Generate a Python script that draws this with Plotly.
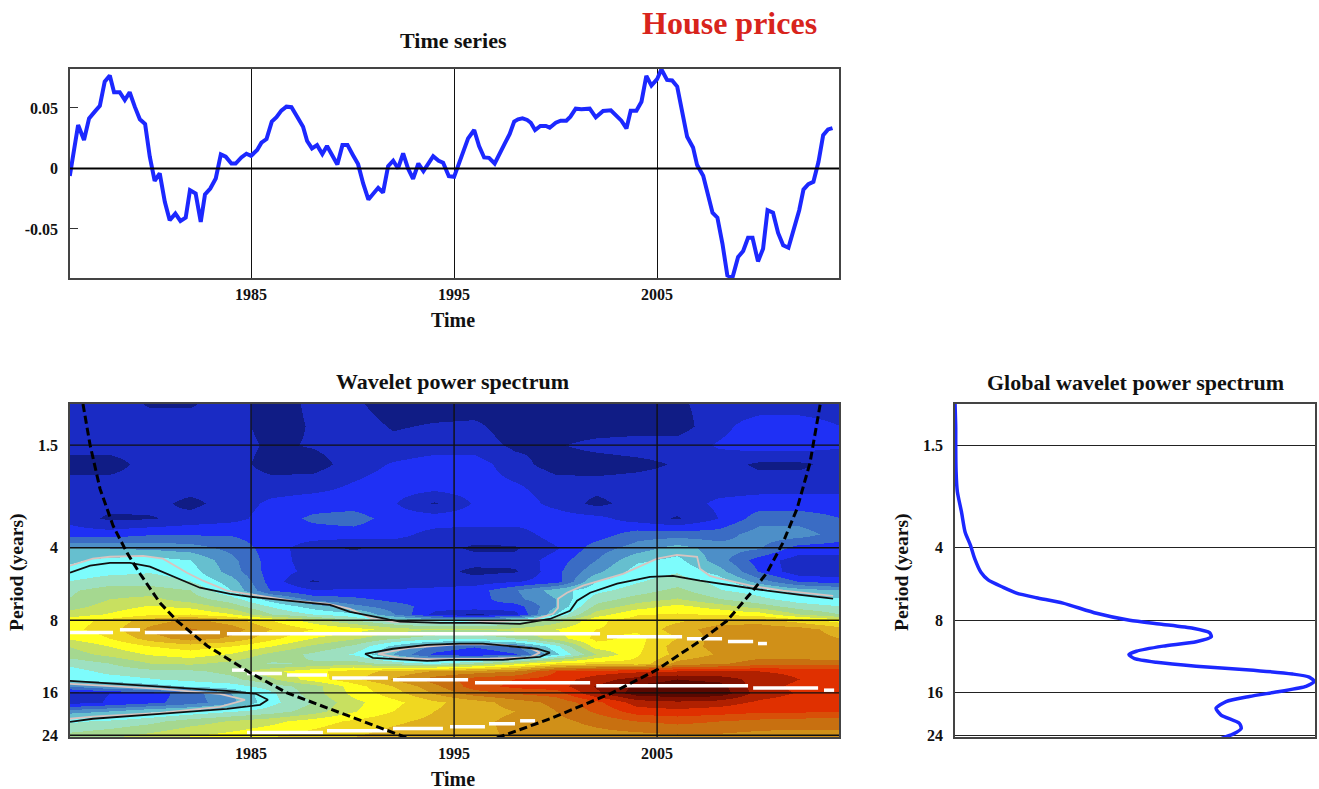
import math
import plotly.graph_objects as go

# ---- time series ----
ts_years = [1976.07,1976.48,1976.77,1977.02,1977.30,1977.55,1977.79,1978.04,1978.25,1978.53,1978.78,1979.02,1979.27,1979.52,1979.78,1980.01,1980.25,1980.50,1980.75,1980.99,1981.27,1981.52,1981.78,1981.99,1982.27,1982.52,1982.73,1982.99,1983.26,1983.51,1983.75,1984.03,1984.24,1984.52,1984.77,1985.00,1985.30,1985.51,1985.76,1986.02,1986.25,1986.49,1986.74,1986.99,1987.27,1987.56,1987.76,1988.00,1988.25,1988.51,1988.74,1989.01,1989.25,1989.50,1989.75,1990.02,1990.27,1990.52,1990.78,1991.26,1991.50,1991.75,1992.00,1992.24,1992.49,1992.73,1992.98,1993.24,1993.49,1993.97,1994.24,1994.46,1994.74,1995.00,
            1995.20,1995.44,1995.69,1995.99,1996.23,1996.48,1996.72,1997.00,1997.25,1997.50,1997.74,1997.96,1998.15,1998.37,1998.60,1998.78,1998.99,1999.25,1999.52,1999.71,2000.01,2000.25,2000.53,2000.73,2000.99,2001.27,2001.68,2001.98,2002.34,2002.72,2003.00,2003.24,2003.49,2003.70,2003.98,2004.23,2004.47,2004.72,2005.00,2005.21,2005.49,2005.74,2005.99,2006.20,2006.48,2006.77,2006.97,2007.27,2007.51,2007.73,2007.97,2008.22,2008.46,2008.71,2008.99,2009.24,2009.48,2009.70,2009.97,2010.22,2010.44,2010.71,2010.96,2011.21,2011.47,2011.75,2012.00,2012.21,2012.45,2012.70,2012.95,2013.18,2013.42,2013.64]
ts_values = [-.0061,.0359,.0235,.0414,.0470,.0517,.0718,.0768,.0630,.0630,.0566,.0630,.0511,.0406,.0367,.0097,-.0102,-.0041,-.0276,-.0428,-.0373,-.0434,-.0406,-.0180,-.0207,-.0442,-.0215,-.0166,-.0083,.0116,.0097,.0041,.0041,.0091,.0122,.0105,.0152,.0213,.0243,.0387,.0423,.0478,.0511,.0506,.0428,.0345,.0227,.0166,.0193,.0119,.0185,.0105,.0033,.0193,.0193,.0110,.0036,-.0124,-.0257,-.0160,-.0199,.0019,.0064,0,.0124,0,-.0086,.0041,-.0022,.0102,.0064,.0047,-.0064,-.0069,
             .0028,.0130,.0249,.0318,.0185,.0091,.0088,.0041,.0130,.0207,.0285,.0387,.0406,.0414,.0401,.0378,.0318,.0351,.0351,.0337,.0378,.0395,.0395,.0428,.0494,.0489,.0494,.0423,.0475,.0481,.0434,.0395,.0331,.0478,.0478,.0552,.0765,.0685,.0738,.0820,.0732,.0727,.0677,.0483,.0262,.0174,.0028,-.0061,-.0235,-.0365,-.0406,-.0622,-.0884,-.0903,-.0732,-.0682,-.0572,-.0572,-.0768,-.0663,-.0345,-.0365,-.0533,-.0635,-.0655,-.0497,-.0345,-.0174,-.0130,-.0110,.0055,.0276,.0323,.0334]

# ---- wavelet power ----
wp_years = [1976,1978,1980,1982,1984,1986,1988,1990,1992,1994,1996,1998,2000,2002,2004,2006,2008,2010,2012,2014]
wp_periods = [1.013,1.25,1.5,1.8,2.2,2.6,3.0,3.5,4,4.5,5,5.5,6,6.5,7,7.5,8,8.7,9.5,10.2,11,12,13,14,15,16,17.5,19,21,24.4]
wp_power = [
 [1,1,.4,.4,1,0,.7,.7,0,0,0,0,0,0,0,.3,1,1,1,1],
 [1,1,1,1,1,0,.6,1,.4,.6,.7,0,0,0,0,0,1.2,2,2,1.5],
 [1,1,1,1,1,.3,.6,1,.8,1,1,.3,.4,.8,1,1,1.6,2,2,1.6],
 [0,0,1,1,1,0,0,1,1.6,2,2,.9,0,0,.2,.6,1,.3,.3,.9],
 [1,1,1,1,1,1,1.1,1.6,2,2,2,1.6,1,.9,1,1,1,1,1,1],
 [1,.9,.9,.2,1,1.7,2,2,1.6,.4,1.6,2,1.2,.2,1,1,1.7,2,2,2],
 [1.2,.3,.4,.9,1.2,1.9,2.7,3,2,2,2,2,2,1.8,1,.4,1.5,3,3,2.5],
 [2,2,2.4,2.4,2.4,2,2,2,1.8,1.2,1,1,2,2,3,3,3,4,4,3],
 [4.5,4.5,4.3,4,3.2,2,.9,.4,.9,1,.3,.4,1.4,3,4,5,4,3.6,2,2],
 [5.3,5.8,6,5.5,3.8,2,1,1,1,1,1,.8,2,3.5,5.3,5.8,4,2,1,1],
 [5.8,6.2,6.4,6,4,2,1.2,1,1,1,.2,.4,2.2,4.2,6,6.4,5,2.4,.8,.8],
 [6.5,7,7,6.5,5,2,.4,1,1,1.1,1,1.4,2,5.5,6.4,7,6.2,4,2.4,2],
 [7.3,8,8,7.5,5.5,2.4,1.6,1.6,1.6,1.7,2,3.4,5,6.2,7,7.8,6.6,6,5,4.5],
 [7.5,8.5,8.8,8,7,5,3.2,2.8,2.2,2,2,3.2,4.5,7,8,8.6,7.6,6.8,6,5.7],
 [8,9,9.6,9.2,8,6.4,5,3.8,3,2,2.2,2,4.5,7.8,9,9.8,9,8,7,6.5],
 [9,9.6,10.3,10.5,9.6,7.5,6.5,5.8,3.6,1.2,.3,1.2,5.5,9,10.4,10.6,10.4,10,8.5,7.5],
 [10,10.8,12,12.8,12,10.5,9,7.5,6.3,5.5,5.5,6.5,8,10.3,11,11.3,12,12,11,10],
 [10.2,11,12.8,13.6,13,11.5,10.5,10,9,8.5,8.5,8.8,9.5,10.5,10.7,12,13,13.2,13,12],
 [9.6,10.5,12,13,12.3,10.8,9.5,8.7,7.6,7,6.8,7.5,9,10.8,10.2,11.5,13,13.2,13,12.5],
 [8.5,9.5,10.5,11,10.5,9.5,8.3,7.3,5.2,3.2,2.6,3.4,6.2,10,10.2,12,12.8,13,13,12.5],
 [8,8.8,9.6,10,9.4,8.2,7.3,6.4,4.5,2.3,1.7,2.4,5.3,8.5,10.4,11.8,12.6,13,13,12.5],
 [6.8,7.5,8.5,8.7,8.2,7.4,7.6,8,7,6.3,7.5,9,10.5,11,10.8,12.8,13.3,14,14,14],
 [6,6.8,7.2,7.3,7.8,9.2,10.2,11,11.8,12.6,13,13.5,15.5,16,16.3,16.5,16.5,16.5,16.3,16],
 [6,6,6.4,6.8,7.2,8.3,10,11.2,12.6,14,15,15.5,16,17,18,18.5,18.2,17,16.5,16],
 [3.5,4.5,5,5.6,6,7,8,10,11.5,13.2,15,15.8,16,17.6,18.7,19,19,16.8,16.3,16],
 [1,1.5,2,3,4.5,6.3,8,9.8,11,12.6,14,14.6,15,17.3,19,19.3,19.2,17,16.4,16],
 [1,1.6,2.2,3,4.2,6.2,7.5,9.2,10.2,11.3,12,13,13.8,15.2,17,17.3,17,16.3,16,16],
 [4,4.5,5.3,5.8,6.4,7,8,9.4,10.5,11.5,12,12.5,13.5,14.7,16,16.2,16,15.7,15.7,15.5],
 [6.3,6.7,7.2,8,8.6,9.2,10,10.7,11.3,11.8,12.2,12.8,13.2,13.8,14.5,14.8,14.5,14.2,14,14],
 [8,8.4,9,9.6,10,10.5,11,11.5,12,12,12.3,12.6,13,13,13,13.2,13.2,13,13,13],
]
wp_colors = ["#101c85","#1a2bc4","#1f30f5","#3a6cc4","#4d8fc8","#66bfcf","#7dfcfc","#9de0c0","#a5d890","#c8e060",
             "#ffff20","#f0d820","#dfb020","#d09018","#c87010","#d85008","#e03000","#b02000","#801000","#5a0800"]

# significance contours, cone of influence, ridges: (year, period)
sig_black_y = [1976.08,1977.07,1978.05,1979.04,1980.02,1980.76,1981.5,1982.48,1983.96,1984.98,1986.92,1988.89,1989.87,1991.35,1992.34,1994.31,1996.28,1998.25,1999.72,2000.71,2001.06,2001.7,2003.03,2004.65,2005.78,2007.11,2008.74,2010.41,2012.04,2013.67]
sig_black_p = [5.08,4.75,4.62,4.62,4.79,5.08,5.38,5.86,6.21,6.39,6.64,6.9,7.38,7.81,8.1,8.2,8.2,8.28,7.9,7.31,6.64,6.15,5.64,5.28,5.23,5.48,5.75,6.03,6.27,6.51]
sig_grey_y = [1976.08,1977.21,1978.05,1979.68,1980.66,1981.84,1982.63,1983.81,1984.8,1987.07,1988.74,1989.87,1990.86,1991.99,1995.29,1998.89,1999.87,2000.12,2000.12,2000.56,2001.35,2003.32,2004.01,2005.0,2005.98,2006.97,2007.11,2007.6,2007.95,2009.6,2011.2,2012.9,2013.67]
sig_grey_p = [4.75,4.44,4.36,4.32,4.44,5.08,5.48,6.03,6.21,6.64,6.83,7.17,7.81,8.12,8.2,7.97,7.52,7.1,6.51,6.15,5.75,5.13,4.84,4.44,4.28,4.36,4.89,5.23,5.33,5.75,6.03,6.21,6.33]
mid_black_y = [1990.61,1991.99,1993.67,1995.29,1996.42,1998.1,1999.08,1999.72,1999.23,1997.41,1994.8,1993.67,1991.99,1991.0,1990.61]
mid_black_p = [11.02,10.5,10.11,9.99,10.0,10.31,10.5,10.9,11.34,11.67,11.67,11.78,11.56,11.45,11.02]
mid_grey_y = [1991.25,1992.83,1995.29,1997.26,1998.74,1999.23,1998.74,1996.77,1993.81,1992.34,1991.25]
mid_grey_p = [11.02,10.4,10.05,10.1,10.45,10.9,11.4,11.55,11.6,11.45,11.02]
low_black_y = [1976.08,1983.8,1985.24,1985.83,1985.44,1983.81,1980.51,1977.21,1976.08]
low_black_p = [14.26,15.7,16.15,17.1,17.95,18.65,19.56,20.5,21.1]
low_grey_y = [1976.08,1980.51,1983.46,1984.7,1983.46,1980.51,1977.21,1976.08]
low_grey_p = [14.68,15.4,16.15,17.1,18.3,19.4,20.1,20.5]
coi_left_y = [1976.72,1977.07,1977.56,1978.2,1978.89,1979.53,1980.51,1981.35,1982.83,1984.95,1986.77,1989.53,1992.68]
coi_left_p = [1.013,1.5,2.28,3.24,4.2,5.13,6.77,8.04,10.2,13.2,16,19.56,24.6]
coi_right_y = [1997.11,1999.73,2002.68,2004.99,2007.26,2008.44,2009.72,2010.41,2011.2,2011.89,2012.53,2013.03]
coi_right_p = [24.6,20.5,16.15,12.84,9.55,8.04,6.03,5.08,3.81,2.76,1.78,1.02]
ridge_y = [1976.08,1978.2,None,1978.54,1979.53,None,1979.77,1983.47,None,1983.81,2002.19,None,2002.53,2006.23,None,2006.47,2008.2,None,2008.49,2009.73,None,2009.97,2010.41,None,
           1984.06,1984.7,None,1984.8,1986.52,None,1986.77,1988.74,None,1988.99,1991.74,None,1991.99,1995.69,None,1996.03,2001.7,None,2002.0,2009.48,None,2009.73,2012.93,None,2013.22,2013.72,None,
           1984.8,1988.54,None,1988.74,1991.7,None,1991.99,1994.45,None,1994.8,1996.52,None,1996.72,1998.0,None,1998.25,1998.99]
ridge_p = [8.99,8.99,None,8.76,8.76,None,8.99,8.99,None,9.1,9.1,None,9.37,9.37,None,9.55,9.55,None,9.8,9.8,None,9.99,9.99,None,
           12.88,12.88,None,13.3,13.3,None,13.5,13.5,None,13.9,13.9,None,14.13,14.13,None,14.54,14.54,None,14.96,14.96,None,15.26,15.26,None,15.6,15.6,None,
           23.4,23.4,None,23.0,23.0,None,22.5,22.5,None,22.1,22.1,None,21.5,21.5,None,20.9,20.9]

# ---- global spectrum ----
gw_power = [0,.002,.002,.003,.0065,.018,.028,.043,.055,.072,.092,.134,.171,.226,.30,.393,.485,.578,.661,.707,.712,.67,.578,.504,.483,.499,.559,.67,.809,.938,.984,.998,.975,.901,.818,.753,.725,.739,.79,.795,.772,.735]
gw_period = [1.0,1.27,1.5,1.93,2.34,2.84,3.44,3.91,4.45,5.06,5.44,5.84,6.17,6.45,6.79,7.48,8.0,8.32,8.64,9.0,9.36,9.82,10.24,10.75,11.1,11.54,11.95,12.41,12.82,13.37,13.76,14.35,15.05,15.8,16.57,17.39,18.55,19.78,21.42,22.5,23.75,24.9]

year_ticks = [1985, 1995, 2005]
period_ticks = [1.5, 4, 8, 16, 24]
value_ticks = [-0.05, 0, 0.05]
value_labels = ["-0.05", "0", "0.05"]
X_RANGE = [1976.08, 2013.96]
P_RANGE = [1.013, 24.4]

W, H = 1319, 789
FONT = "Liberation Serif"
BLUE = "#1c28ff"
INK = "#111111"
FRAME = "#444444"

def hd(a, b): return [a / W, b / W]
def vd(top, bottom): return [1 - bottom / H, 1 - top / H]
def bold(items): return [f"<b>{i}</b>" for i in items]

fig = go.Figure()

# time series
fig.add_trace(go.Scatter(x=ts_years, y=ts_values, mode="lines", line=dict(color=BLUE, width=4), xaxis="x", yaxis="y", showlegend=False))

# spectrum
n = len(wp_colors)
scale = []
for i, c in enumerate(wp_colors):
    scale += [[i / n, c], [(i + 1) / n, c]]
fig.add_trace(go.Heatmap(x=wp_years, y=wp_periods, z=wp_power, zmin=-.5, zmax=n - .5, colorscale=scale,
                         zsmooth="best", showscale=False, xaxis="x2", yaxis="y2"))

def line2(x, y, color, width, dash="solid"):
    fig.add_trace(go.Scatter(x=x, y=y, mode="lines", line=dict(color=color, width=width, dash=dash),
                             xaxis="x2", yaxis="y2", showlegend=False, connectgaps=False))

for a, b in [(sig_grey_y, sig_grey_p), (mid_grey_y, mid_grey_p), (low_grey_y, low_grey_p)]:
    line2(a, b, "#d8c4c0", 1.8)
for a, b in [(sig_black_y, sig_black_p), (mid_black_y, mid_black_p), (low_black_y, low_black_p)]:
    line2(a, b, "#101010", 1.8)
line2(ridge_y, ridge_p, "#ffffff", 3.5)
gx, gy = [], []
for t in year_ticks:
    gx += [t, t, None]; gy += [P_RANGE[0], P_RANGE[1], None]
for p in period_ticks:
    gx += [X_RANGE[0], X_RANGE[1], None]; gy += [p, p, None]
line2(gx, gy, "#111111", 1.4)
line2(coi_left_y, coi_left_p, "#000000", 3, "8px,4px")
line2(coi_right_y, coi_right_p, "#000000", 3, "8px,4px")

# global
fig.add_trace(go.Scatter(x=gw_power, y=gw_period, mode="lines", line=dict(color=BLUE, width=3.5, shape="spline", smoothing=.6),
                         xaxis="x3", yaxis="y3", showlegend=False))

tf = dict(family=FONT, size=16, color=INK)
common = dict(showline=True, linecolor=FRAME, linewidth=1.5, mirror=True, tickfont=tf, zeroline=False)
log_range = [math.log10(P_RANGE[1]), math.log10(P_RANGE[0])]

fig.update_layout(
    autosize=False, width=W, height=H, margin=dict(l=0, r=0, t=0, b=0, pad=0, autoexpand=False), paper_bgcolor="white", plot_bgcolor="white",
    xaxis=dict(domain=hd(70, 839), range=X_RANGE, tickvals=year_ticks, ticktext=bold(year_ticks), showgrid=True, gridcolor="#111111", gridwidth=1.3,
               ticks="", ticklabelstandoff=1, anchor="y", **common),
    yaxis=dict(domain=vd(69, 278), range=[-0.0905, 0.0822], tickvals=value_ticks, ticktext=bold(value_labels), showgrid=False,
               ticks="inside", ticklen=8, tickcolor="#333333", ticklabelstandoff=7, anchor="x", **common),
    xaxis2=dict(domain=hd(70, 839), range=X_RANGE, tickvals=year_ticks, ticktext=bold(year_ticks), showgrid=False, ticks="", ticklabelstandoff=1, anchor="y2", **common),
    yaxis2=dict(domain=vd(404, 737), type="log", range=log_range,
                tickvals=period_ticks, ticktext=bold(period_ticks), showgrid=False, ticks="", ticklabelstandoff=7, anchor="x2", **common),
    xaxis3=dict(domain=hd(955, 1315), range=[0, 1.0], showticklabels=False, showgrid=False, ticks="", anchor="y3", **common),
    yaxis3=dict(domain=vd(404, 737), type="log", range=log_range,
                tickvals=period_ticks, ticktext=bold(period_ticks), showgrid=True, gridcolor="#222222", gridwidth=1.4,
                ticks="", ticklabelstandoff=7, anchor="x3", **common),
    shapes=[dict(type="line", xref="x", yref="y", x0=X_RANGE[0], x1=X_RANGE[1], y0=0, y1=0, line=dict(color="#000000", width=2.2), layer="above")],
)

def text(px, py, s, size=22, color=INK, angle=0):
    fig.add_annotation(xref="paper", yref="paper", x=px / W, y=1 - py / H, text=f"<b>{s}</b>", showarrow=False,
                       font=dict(family=FONT, size=size, color=color), xanchor="center", yanchor="middle", textangle=angle)

text(453, 41, "Time series")
text(730, 23, "House prices", size=32, color="#d8241c")
text(453, 320, "Time", size=20)
text(452, 381, "Wavelet power spectrum")
text(453, 779, "Time", size=20)
text(1135, 382, "Global wavelet power spectrum")
text(17, 572, "Period (years)", size=19.5, angle=-90)
text(902, 572, "Period (years)", size=19.5, angle=-90)

fig.write_html("out.html", config={"displayModeBar": False}, post_script="document.body.style.margin='0';")
